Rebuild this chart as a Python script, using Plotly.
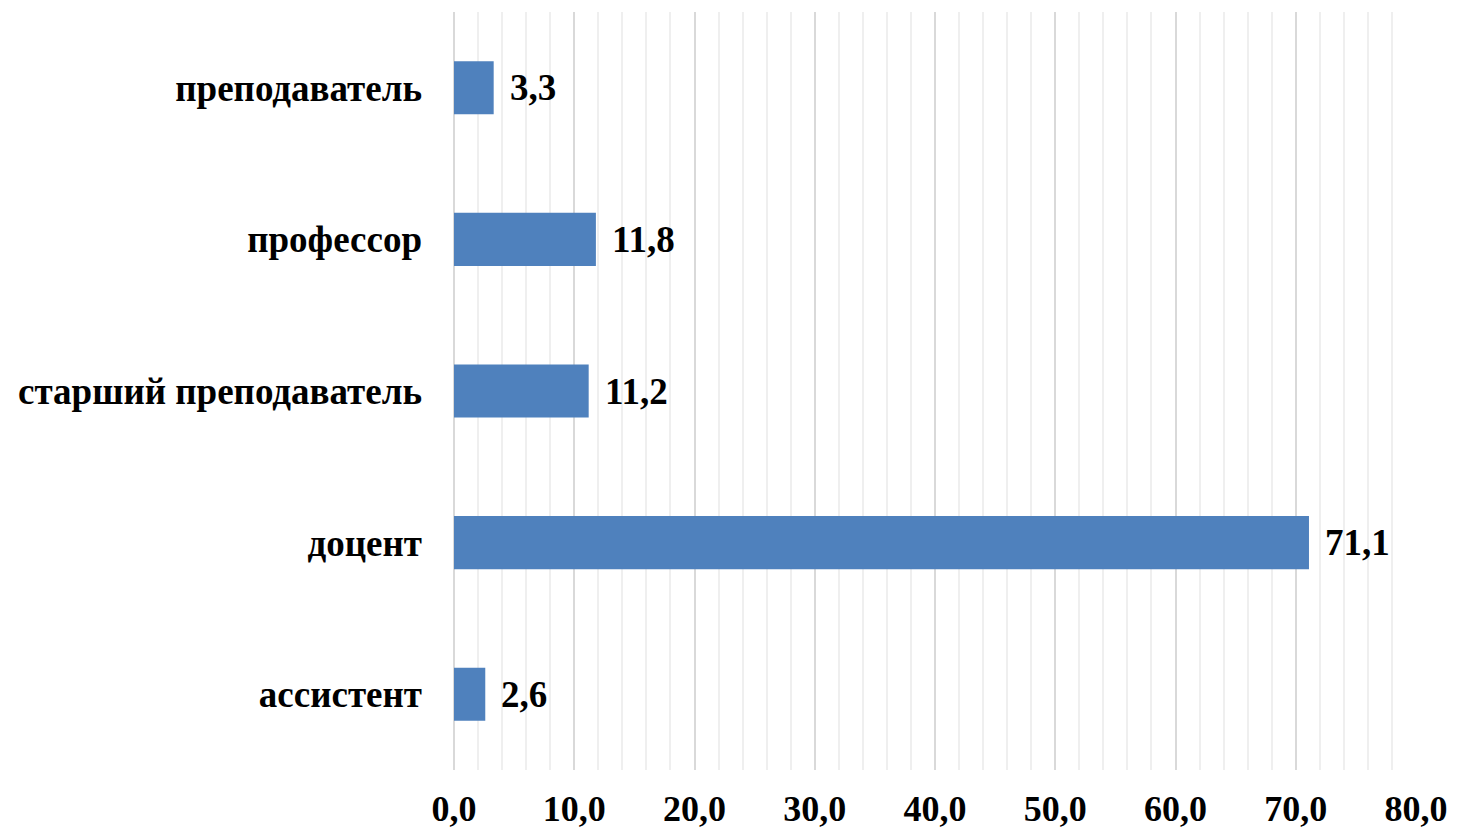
import plotly.graph_objects as go

categories = ["ассистент", "доцент", "старший преподаватель", "профессор", "преподаватель"]
values = [2.6, 71.1, 11.2, 11.8, 3.3]
labels = ["2,6", "71,1", "11,2", "11,8", "3,3"]
tick_vals = [0, 10, 20, 30, 40, 50, 60, 70, 80]
tick_text = ["0,0", "10,0", "20,0", "30,0", "40,0", "50,0", "60,0", "70,0", "80,0"]

FONT = "Liberation Serif"
FS = 37

fig = go.Figure()
fig.add_trace(go.Bar(
    y=categories, x=values, orientation="h",
    marker=dict(color="#4F81BD", line=dict(width=0)),
    width=0.35,
))

for c, v, t in zip(categories, values, labels):
    fig.add_annotation(x=v, y=c, text="<b>%s</b>" % t, showarrow=False,
                       xanchor="left", yanchor="middle", xshift=14,
                       font=dict(family=FONT, size=FS, color="black"))

fig.update_layout(
    width=1458, height=832,
    margin=dict(l=454, r=42, t=12, b=62),
    plot_bgcolor="white", paper_bgcolor="white",
    showlegend=False,
)
fig.update_xaxes(
    range=[0, 80], tickvals=tick_vals, ticktext=["<b>%s</b>" % t for t in tick_text],
    tickfont=dict(family=FONT, size=36, color="black"),
    showgrid=True, gridcolor="#d9d9d9", gridwidth=1.5,
    minor=dict(dtick=2, showgrid=True, gridcolor="#efefef", gridwidth=1.5),
    zeroline=True, zerolinecolor="#d9d9d9", zerolinewidth=1.5,
    showline=False, ticks="", ticklabelstandoff=14, automargin=False,
)
fig.update_yaxes(
    categoryorder="array", categoryarray=categories,
    tickvals=categories, ticktext=["<b>%s</b>" % c for c in categories],
    tickfont=dict(family=FONT, size=FS, color="black"),
    showgrid=False, ticks="", showline=False, ticklabelstandoff=31, automargin=False,
)

fig.write_html("out.html", config={"displayModeBar": False},
               post_script="document.body.style.margin='0';")
